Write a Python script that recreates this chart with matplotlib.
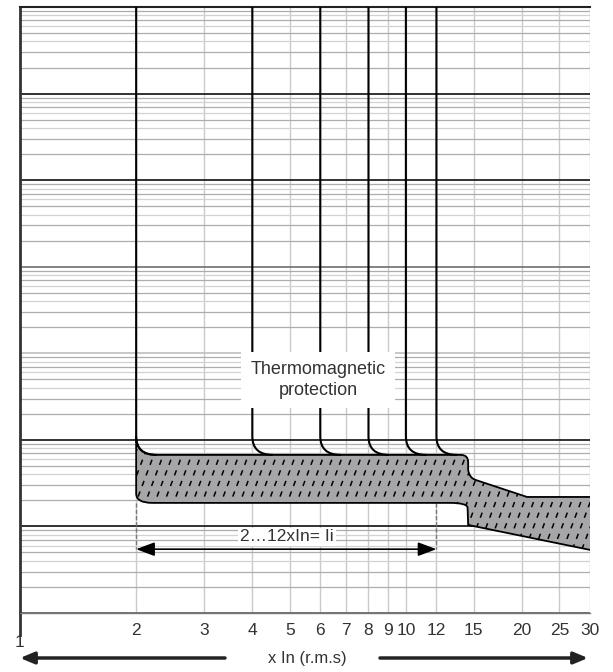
import numpy as np
import matplotlib.pyplot as plt
from matplotlib.path import Path
from matplotlib.patches import PathPatch
from matplotlib.collections import LineCollection
import matplotlib.transforms as mtransforms

plt.rcParams['font.family'] = ['Liberation Sans', 'DejaVu Sans']

# x axis : multiples of In, y axis : trip time (s)
tick_vals = [1, 2, 3, 4, 5, 6, 7, 8, 9, 10, 12, 15, 20, 25, 30]
tick_labels = ['1', '2', '3', '4', '5', '6', '7', '8', '9', '10', '12', '15', '20', '25', '30']
decades = [1e-3, 1e-2, 1e-1, 1e0, 1e1, 1e2, 1e3, 1e4]
decade_colors = ['#666666', '#222222', '#222222', '#c4c4c4', '#7a7a7a', '#222222', '#222222', '#222222']

# magnetic thresholds (2...12 x In)
thresholds = [2, 4, 6, 8, 10, 12]
knee_t = 0.11        # where the vertical line starts to bend
band_top_t = 0.067   # upper limit of the magnetic band
band_low_t = 0.0187  # lower limit of the magnetic band
arrow_t = 0.00546

# outline of the tripping band
band_x = [2, 2, 2, 2.2, 13.0, 14.4, 14.45, 14.5, 32, 32, 20.6, 15.2, 14.6, 14.5, 14.5, 14.5, 13.9, 2.25, 2, 2, 2]
band_t = [0.11, 0.024, 0.0187, 0.0187, 0.0187, 0.0187, 0.0165, 0.0104, 0.00505, 0.0219, 0.0219,
          0.0343, 0.036, 0.045, 0.055, 0.067, 0.067, 0.067, 0.067, 0.11, 0.11]
band_codes = [Path.MOVETO, Path.LINETO, Path.CURVE3, Path.CURVE3, Path.LINETO, Path.CURVE3, Path.CURVE3,
              Path.LINETO, Path.LINETO, Path.LINETO, Path.LINETO, Path.LINETO, Path.CURVE3, Path.CURVE3,
              Path.LINETO, Path.CURVE3, Path.CURVE3, Path.LINETO, Path.CURVE3, Path.CURVE3, Path.CLOSEPOLY]

fig = plt.figure(figsize=(6.13, 6.72), dpi=100)
ax = fig.add_axes([20/613, 59/672, 570/613, 606/672])
ax.set_xscale('log')
ax.set_yscale('log')
ax.set_xlim(1, 30)
ax.set_ylim(1e-3, 1e4)

# grid
for v in tick_vals[1:]:
    ax.axvline(v, color='#cacaca', lw=1, zorder=1)
for i, d in enumerate(decades[:-1]):
    for m in range(2, 10):
        col = '#adadad' if m in (2, 3, 5, 7, 9) else '#d2d2d2'
        ax.axhline(d*m, color=col, lw=0.9, zorder=1)
    ax.axhline(d, color=decade_colors[i], lw=1.3, zorder=1.5)

ax.spines['right'].set_visible(False)
ax.spines['top'].set_color('#222222')
ax.spines['top'].set_linewidth(1.5)
ax.spines['left'].set_color('#333333')
ax.spines['left'].set_linewidth(2)
ax.spines['bottom'].set_color('#777777')
ax.spines['bottom'].set_linewidth(1)

ax.set_xticks(tick_vals[1:])
ax.set_xticklabels(tick_labels[1:])
ax.minorticks_off()
ax.set_yticks([])
ax.tick_params(axis='x', length=0, pad=7, labelsize=12.5, labelcolor='#333333')

blend = mtransforms.blended_transform_factory(ax.transData, ax.transAxes)
ax.plot([1, 1], [0, -0.037], transform=blend, clip_on=False, color='#333333', lw=2)
ax.text(1, -0.049, tick_labels[0], transform=blend, ha='center', va='center',
        fontsize=12.5, color='#333333')

# band
band_path = Path(np.column_stack([band_x, band_t]), band_codes)
band = PathPatch(band_path, facecolor='#a6a6a8', edgecolor='none', zorder=3)
ax.add_patch(band)

# dashed hatch inside the band
slope = 0.40
offs = np.arange(-0.6, 1.05, 0.0166)
segs = [[(o, 0), (o + slope, 1)] for o in offs]
hatch = LineCollection(segs, transform=ax.transAxes, colors='black', lw=1.1,
                       linestyles=[(0, (3.6, 3.8))], zorder=3.5)
hatch.set_clip_path(band)
hatch.set_clip_box(ax.bbox)
ax.add_collection(hatch)
# outline above hatch
ax.add_patch(PathPatch(band_path, facecolor='none', edgecolor='black', lw=1.3, zorder=4))

# threshold curves
for x in thresholds:
    verts = [(x, 2e4), (x, knee_t), (x, band_top_t), (1.13*x, band_top_t)]
    codes = [Path.MOVETO, Path.LINETO, Path.CURVE3, Path.CURVE3]
    ax.add_patch(PathPatch(Path(verts, codes), facecolor='none', edgecolor='black', lw=1.5, zorder=4))

# range of the magnetic setting
for x in [thresholds[0], thresholds[-1]]:
    ax.plot([x, x], [band_low_t, arrow_t], color='#777777', lw=1, ls=(0, (3, 1.5)), zorder=2)
ax.annotate('', xy=(thresholds[0], arrow_t), xytext=(thresholds[-1], arrow_t),
            arrowprops=dict(arrowstyle='<|-|>,head_length=0.8,head_width=0.3', mutation_scale=14,
                            lw=1.2, color='black', shrinkA=0, shrinkB=0), zorder=5)
ax.text(4.92, 0.00755, '2…12xIn= Ii', ha='center', va='center', fontsize=12.5, color='#333333',
        bbox=dict(boxstyle='square,pad=0.1', fc='white', ec='none'), zorder=5)

ax.text(5.92, 0.49, 'Thermomagnetic\nprotection', ha='center', va='center', fontsize=13,
        color='#333333', linespacing=1.25,
        bbox=dict(boxstyle='square,pad=0.5', fc='white', ec='none'), zorder=6)

# bottom arrows and label
y_arr = 1 - 658/672
for x0, x1 in [(225, 20), (380, 588)]:
    ax.annotate('', xy=(x1/613, y_arr), xytext=(x0/613, y_arr), xycoords='figure fraction',
                textcoords='figure fraction',
                arrowprops=dict(arrowstyle='-|>,head_length=0.6,head_width=0.25', mutation_scale=14,
                                lw=2.5, color='#222222', shrinkA=0, shrinkB=0))
fig.text(307/613, y_arr, 'x In (r.m.s)', ha='center', va='center', fontsize=12, color='#333333')

fig.savefig('out.png', dpi=100)
